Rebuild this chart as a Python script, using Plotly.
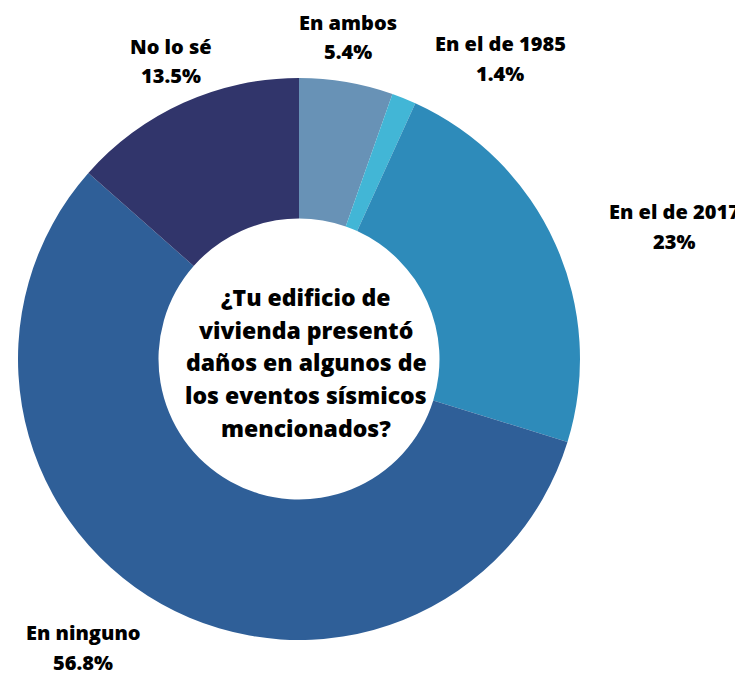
import plotly.graph_objects as go

categories = ["En ambos", "En el de 1985", "En el de 2017", "En ninguno", "No lo sé"]
values = [5.4, 1.4, 23, 56.8, 13.5]
value_labels = ["5.4%", "1.4%", "23%", "56.8%", "13.5%"]
colors = ["#6892b6", "#42b6d6", "#2e8bba", "#2f5f98", "#31356b"]
center_lines = ["¿Tu edificio de", "vivienda presentó", "daños en algunos de",
                "los eventos sísmicos", "mencionados?"]

W, H = 743, 673
cx, cy, R = 291, 351, 281  # domain compensation for plotly's placement

fig = go.Figure(go.Pie(
    labels=categories, values=values,
    marker=dict(colors=colors, line=dict(width=0)),
    hole=0.5, sort=False, direction="clockwise", rotation=0,
    textinfo="none", hoverinfo="label+percent", showlegend=False,
    domain=dict(x=[(cx - R) / W, (cx + R) / W], y=[(H - cy - R) / H, (H - cy + R) / H]),
))

YOFF = -8
# label centre positions in pixels (layout only): x, y of first line
label_pos = [(340, 22), (492, 43), (666, 211), (75, 632), (163, 46)]
font = dict(family="Open Sans", size=20, color="black", weight=800)
anns = []
for cat, vl, (px, py) in zip(categories, value_labels, label_pos):
    for j, t in enumerate([cat, vl]):
        anns.append(dict(x=px / W, y=1 - (py + j * 30 + YOFF) / H, xref="paper", yref="paper",
                         text=t, showarrow=False, font=font,
                         xanchor="center", yanchor="middle"))

cfont = dict(family="Open Sans", size=23, color="black", weight=800)
for i, line in enumerate(center_lines):
    py = 297 + i * 32.7 + YOFF
    anns.append(dict(x=298 / W, y=1 - py / H, xref="paper", yref="paper",
                     text=line, showarrow=False, font=cfont,
                     xanchor="center", yanchor="middle"))

fig.update_layout(width=W, height=H, margin=dict(l=0, r=0, t=0, b=0),
                  paper_bgcolor="white", plot_bgcolor="white", annotations=anns)
fig.write_html("out.html")
